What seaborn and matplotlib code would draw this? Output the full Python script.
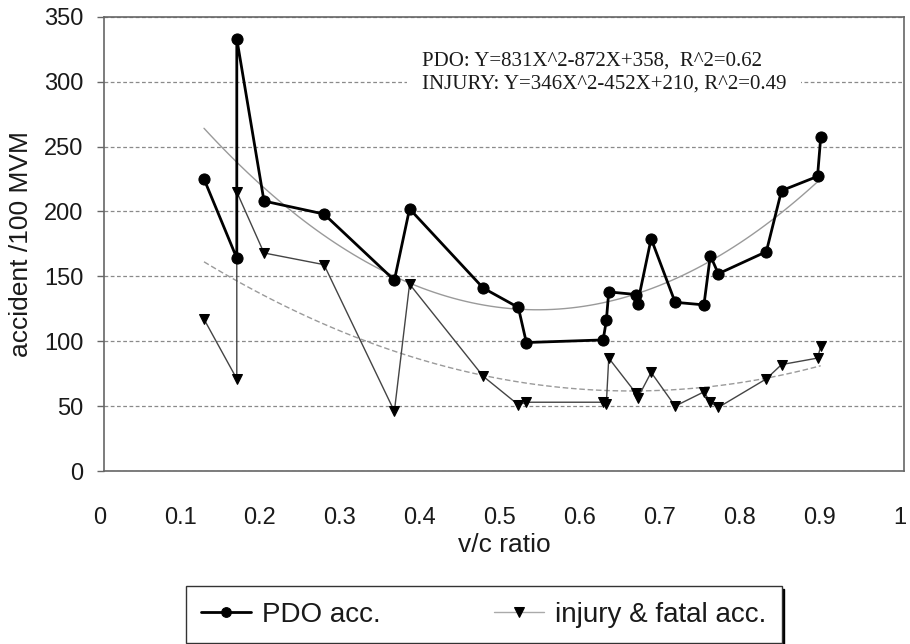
import matplotlib
matplotlib.use("Agg")
import matplotlib.pyplot as plt
import matplotlib.transforms as mtransforms
import seaborn as sns
import pandas as pd

# ---- data ----
vc_ratio = [0.125, 0.166, 0.166, 0.200, 0.275, 0.363, 0.382, 0.474, 0.518, 0.528,
            0.624, 0.628, 0.631, 0.665, 0.667, 0.684, 0.714, 0.750, 0.758, 0.768,
            0.828, 0.847, 0.892, 0.896]
pdo_acc = [225, 164, 333, 208, 198, 147, 202, 141, 126, 99,
           101, 116, 138, 136, 129, 179, 130, 128, 166, 152,
           169, 216, 227, 257]
injury_acc = [117, 71, 215, 168, 159, 46, 144, 73, 51, 53,
              53, 52, 87, 60, 56, 76, 50, 61, 53, 49,
              71, 82, 87, 96]
y_ticks = [0, 50, 100, 150, 200, 250, 300, 350]
x_ticks = [0, 0.1, 0.2, 0.3, 0.4, 0.5, 0.6, 0.7, 0.8, 0.9, 1]
x_tick_labels = ["0", "0.1", "0.2", "0.3", "0.4", "0.5", "0.6", "0.7", "0.8", "0.9", "1"]
series_names = ["PDO acc.", "injury & fatal acc."]
equation_text = "PDO: Y=831X^2-872X+358,  R^2=0.62\nINJURY: Y=346X^2-452X+210, R^2=0.49"

df = pd.DataFrame({"vc": vc_ratio, "pdo": pdo_acc, "inj": injury_acc})

sns.set_style("white")
plt.rcParams["font.family"] = ["Liberation Sans", "DejaVu Sans"]
plt.rcParams["text.color"] = "#1a1a1a"
plt.rcParams["axes.labelcolor"] = "#1a1a1a"
plt.rcParams["xtick.color"] = "#1a1a1a"
plt.rcParams["ytick.color"] = "#1a1a1a"

fig = plt.figure(figsize=(9.1, 6.44), dpi=100)
ax = fig.add_axes([0.1143, 0.2686, 0.8790, 0.7054])

# trend lines (quadratic fits computed by seaborn)
sns.regplot(data=df, x="vc", y="pdo", order=2, ci=None, scatter=False, ax=ax,
            line_kws=dict(color="#9a9a9a", lw=1.0, zorder=2))
sns.regplot(data=df, x="vc", y="inj", order=2, ci=None, scatter=False, ax=ax,
            line_kws=dict(color="#9a9a9a", lw=1.0, ls=(0, (4, 2)), zorder=2))

# data series
sns.lineplot(data=df, x="vc", y="pdo", estimator=None, sort=False, ax=ax,
             color="black", lw=2.0, marker="o", markersize=8,
             markeredgecolor="black", markerfacecolor="black",
             label=series_names[0], zorder=4)
sns.lineplot(data=df, x="vc", y="inj", estimator=None, sort=False, ax=ax,
             color="#444444", lw=1.0, marker="v", markersize=7.5,
             markeredgecolor="black", markerfacecolor="black",
             label=series_names[1], zorder=3)

ax.set_xlim(0, 1)
ax.set_ylim(0, 350)
ax.set_xticks(x_ticks)
ax.set_xticklabels(x_tick_labels)
ax.set_yticks(y_ticks)

ax.yaxis.grid(True, color="#8a8a8a", ls=(0, (3, 2)), lw=0.9)
ax.xaxis.grid(False)
ax.set_axisbelow(True)

for side in ["left", "bottom", "right", "top"]:
    ax.spines[side].set_visible(True)
    ax.spines[side].set_color("#666666")
    ax.spines[side].set_linewidth(1.2)

ax.tick_params(axis="y", which="major", left=True, length=5, width=1,
               color="#666666", pad=10, labelsize=17)
ax.tick_params(axis="x", which="major", bottom=False, length=0, pad=26, labelsize=17)

# x tick labels sit slightly left of their positions in the reference
offset = mtransforms.ScaledTranslation(-4 / 100, 0, fig.dpi_scale_trans)
for lbl in ax.get_xticklabels():
    lbl.set_transform(lbl.get_transform() + offset)

ax.set_xlabel("v/c ratio", fontsize=19, labelpad=3)
ax.set_ylabel("accident /100 MVM", fontsize=19, labelpad=8)

ax.text(0.397, 307, equation_text, fontsize=15, family=["Liberation Serif", "DejaVu Serif"],
        ha="left", va="center", linespacing=1.25, zorder=5,
        bbox=dict(boxstyle="square,pad=0.7", facecolor="white", edgecolor="none"))

leg = ax.legend(loc="lower left", bbox_to_anchor=(0.2044, 0.0016, 0.6546, 0.1055),
                bbox_transform=fig.transFigure, mode="expand", ncol=2,
                fontsize=20, frameon=True, fancybox=False, borderaxespad=0,
                borderpad=0.55, handlelength=1.8, handletextpad=0.4,
                shadow={"color": "black", "alpha": 1})
leg.get_frame().set_edgecolor("#333333")
leg.get_frame().set_linewidth(1.0)
for h in leg.legend_handles:
    h.set_markersize(7)
leg.legend_handles[1].set_color("#aaaaaa")
leg.legend_handles[1].set_markerfacecolor("black")
leg.legend_handles[1].set_markeredgecolor("black")

fig.savefig("out.png", dpi=100)
